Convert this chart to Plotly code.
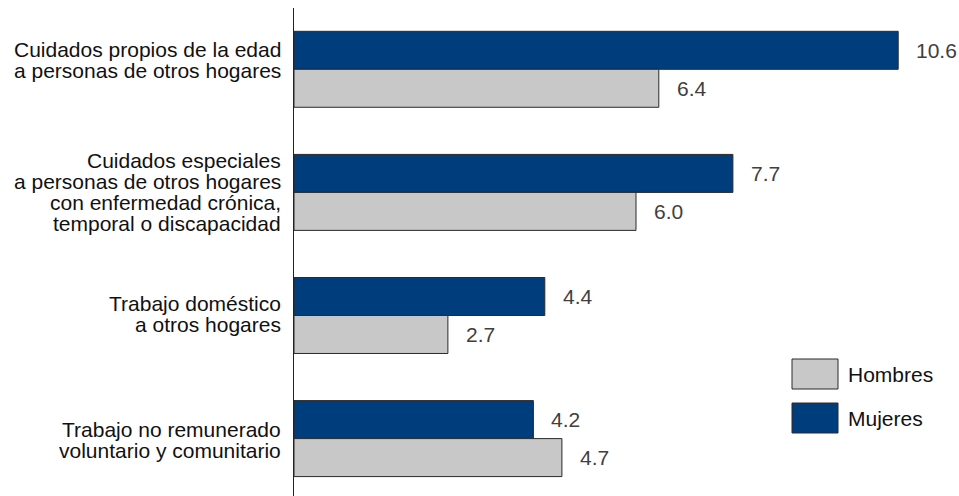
import plotly.graph_objects as go

categories = [
    "Cuidados propios de la edad<br>a personas de otros hogares",
    "Cuidados especiales<br>a personas de otros hogares<br>con enfermedad crónica,<br>temporal o discapacidad",
    "Trabajo doméstico<br>a otros hogares",
    "Trabajo no remunerado<br>voluntario y comunitario",
]
mujeres = [10.6, 7.7, 4.4, 4.2]
hombres = [6.4, 6.0, 2.7, 4.7]
series_names = ["Mujeres", "Hombres"]
series_values = [mujeres, hombres]
series_colors = ["#003D7D", "#C8C8C8"]

FONT = "Arial, Liberation Sans, sans-serif"
W, H = 959, 496
ML, MT = 294, 8
PX_PER_UNIT = 57.0
LABEL_NUDGE = [9, 0, 2, -1]   # small vertical nudges of category labels (px)

fig = go.Figure()
for name, vals, col in zip(series_names, series_values, series_colors):
    fig.add_trace(go.Bar(
        y=categories, x=vals, name=name, orientation="h",
        marker=dict(color=col, line=dict(color="#2a2a2a", width=1)),
        showlegend=False, hoverinfo="skip",
    ))

annotations = []
# value labels
for k, vals in enumerate(series_values):
    shift = 19 if k == 0 else -19
    for c, v in zip(categories, vals):
        annotations.append(dict(
            x=v, y=c, xref="x", yref="y", text=f"{v:.1f}",
            showarrow=False, xanchor="left", yanchor="middle",
            xshift=16, yshift=shift,
            font=dict(family=FONT, size=21, color="#404040"),
        ))

# category labels (one annotation per line for tight line spacing)
LINE = 21
for c, nudge in zip(categories, LABEL_NUDGE):
    lines = c.split("<br>")
    n = len(lines)
    for j, ln in enumerate(lines):
        annotations.append(dict(
            x=0, y=c, xref="paper", yref="y", text=ln,
            showarrow=False, xanchor="right", yanchor="middle",
            xshift=-11, yshift=((n - 1) / 2 - j) * LINE + nudge,
            font=dict(family=FONT, size=21, color="#111111"),
        ))

# manual legend (positions in page pixels)
plot_w = W - ML
plot_h = H - MT
def px2paper_x(px):
    return (px - ML) / plot_w
def px2paper_y(py):
    return (H - py) / plot_h

legend_items = [("Hombres", "#C8C8C8", 359), ("Mujeres", "#003D7D", 403)]
shapes = []
for name, col, top in legend_items:
    shapes.append(dict(
        type="rect", xref="paper", yref="paper",
        x0=px2paper_x(792), x1=px2paper_x(838),
        y0=px2paper_y(top + 30), y1=px2paper_y(top),
        fillcolor=col, line=dict(color="#2a2a2a", width=1),
    ))
    annotations.append(dict(
        x=px2paper_x(846), y=px2paper_y(top + 15), xref="paper", yref="paper",
        text=name, showarrow=False, xanchor="left", yanchor="middle",
        font=dict(family=FONT, size=21, color="#111111"),
    ))

unit = 123.1
top_val = -(69.3 - MT) / unit
bot_val = top_val + plot_h / unit

fig.update_layout(
    width=W, height=H,
    margin=dict(l=ML, r=0, t=MT, b=0, pad=0),
    barmode="group", bargap=0.383, bargroupgap=0,
    plot_bgcolor="white", paper_bgcolor="white",
    annotations=annotations, shapes=shapes,
    xaxis=dict(range=[0, plot_w / PX_PER_UNIT], visible=False, fixedrange=True),
    yaxis=dict(
        range=[bot_val, top_val], showticklabels=False, ticks="",
        showgrid=False, zeroline=False, showline=True,
        linecolor="#222222", linewidth=1, fixedrange=True,
    ),
    font=dict(family=FONT),
    hovermode=False,
)

fig.write_html(
    "out.html",
    config={"displayModeBar": False},
    post_script="document.body.style.margin='0';document.body.style.overflow='hidden';",
)
